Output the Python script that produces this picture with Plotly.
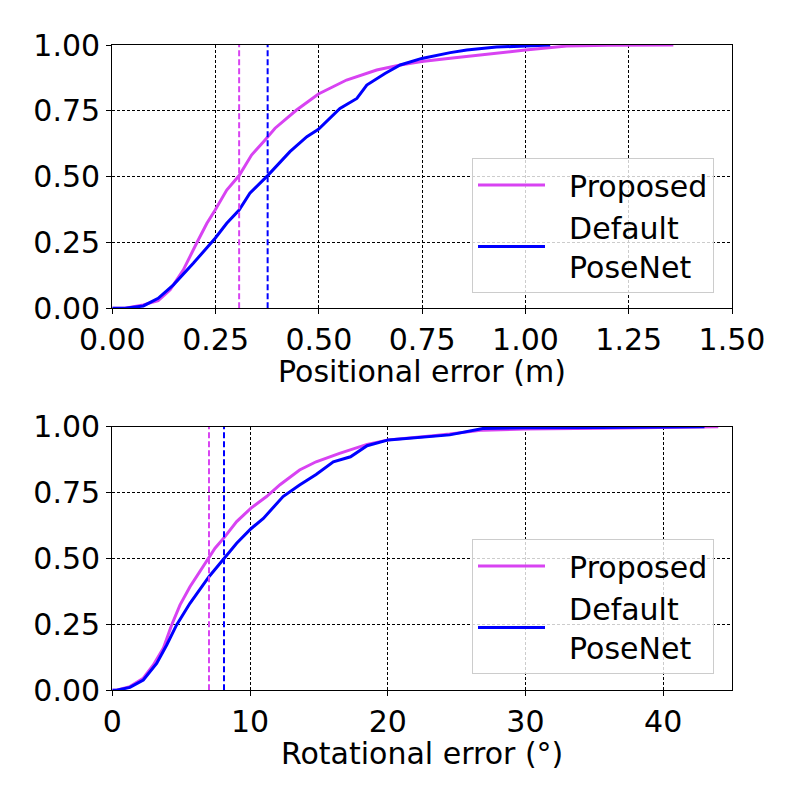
import plotly.graph_objects as go

# Positional error CDF (top)
pos_x_proposed = [0.0, 0.031, 0.075, 0.111, 0.140, 0.172, 0.204, 0.229, 0.249, 0.277, 0.307, 0.337, 0.366, 0.394,
                  0.446, 0.499, 0.567, 0.640, 0.697, 0.749, 0.818, 0.90, 1.0, 1.10, 1.20, 1.358]
pos_y_proposed = [0.0, 0.0, 0.013, 0.029, 0.07, 0.146, 0.247, 0.323, 0.373, 0.449, 0.504, 0.582, 0.633, 0.684,
                  0.753, 0.814, 0.867, 0.905, 0.924, 0.937, 0.950, 0.965, 0.981, 0.996, 0.999, 1.0]
pos_x_default = [0.0, 0.031, 0.075, 0.111, 0.148, 0.196, 0.249, 0.277, 0.307, 0.333, 0.376, 0.430, 0.471, 0.499,
                 0.551, 0.592, 0.616, 0.660, 0.697, 0.749, 0.818, 0.858, 0.93, 1.0, 1.06]
pos_y_default = [0.0, 0.0, 0.009, 0.038, 0.089, 0.171, 0.266, 0.323, 0.373, 0.437, 0.504, 0.595, 0.652, 0.680,
                 0.759, 0.797, 0.848, 0.892, 0.924, 0.949, 0.971, 0.981, 0.992, 0.997, 1.0]

# Rotational error CDF (bottom)
rot_x_proposed = [0.0, 0.31, 1.28, 2.25, 2.98, 3.70, 4.31, 4.92, 5.64, 6.37, 7.02, 7.46, 8.18, 9.03, 10.05, 11.2,
                  12.2, 13.6, 14.8, 16.5, 18.5, 20.05, 23.3, 24.5, 26.9, 30.0, 35.4, 44.0]
rot_y_proposed = [0.0, 0.0, 0.014, 0.046, 0.096, 0.159, 0.248, 0.324, 0.393, 0.450, 0.501, 0.539, 0.583, 0.640,
                  0.690, 0.735, 0.781, 0.836, 0.867, 0.899, 0.933, 0.950, 0.966, 0.972, 0.987, 0.991, 0.994, 1.0]
rot_x_default = [0.0, 0.31, 1.28, 2.25, 3.22, 3.95, 4.67, 5.64, 7.02, 8.11, 9.03, 10.05, 10.97, 12.4, 13.6, 14.8,
                 16.05, 17.3, 18.5, 20.05, 24.5, 26.9, 30.0, 35.4, 43.0]
rot_y_default = [0.0, 0.0, 0.011, 0.039, 0.102, 0.172, 0.248, 0.330, 0.431, 0.501, 0.558, 0.612, 0.652, 0.735,
                 0.779, 0.819, 0.867, 0.886, 0.928, 0.950, 0.969, 0.993, 0.996, 0.997, 1.0]

# Medians (dashed lines)
pos_median = {"Proposed": 0.307, "Default": 0.376}
rot_median = {"Proposed": 7.02, "Default": 8.11}

series_names = ["Proposed", "Default<br>PoseNet"]
axis_titles = ["Positional error (m)", "Rotational error (°)"]
c_prop = "#d843f2"
c_def = "#0000ff"

FONT = "DejaVu Sans"
FS = 30
OFF = 8  # page body offset in px
PAD = "\u00a0\u00a0"
fig = go.Figure()

def legend_label(name):
    return "<br>".join(PAD + part for part in name.split("<br>"))

def add_panel(xp, yp, xd, yd, med, xa, ya, leg):
    fig.add_trace(go.Scatter(x=xp, y=yp, mode="lines", line=dict(color=c_prop, width=3),
                             name=legend_label(series_names[0]), xaxis=xa, yaxis=ya, legend=leg))
    fig.add_trace(go.Scatter(x=xd, y=yd, mode="lines", line=dict(color=c_def, width=3),
                             name=legend_label(series_names[1]), xaxis=xa, yaxis=ya, legend=leg))
    fig.add_trace(go.Scatter(x=[med["Proposed"]] * 2, y=[0, 1], mode="lines",
                             line=dict(color=c_prop, width=2, dash="6px,3px"),
                             showlegend=False, xaxis=xa, yaxis=ya))
    fig.add_trace(go.Scatter(x=[med["Default"]] * 2, y=[0, 1], mode="lines",
                             line=dict(color=c_def, width=2, dash="6px,3px"),
                             showlegend=False, xaxis=xa, yaxis=ya))

add_panel(pos_x_proposed, pos_y_proposed, pos_x_default, pos_y_default, pos_median, "x", "y", "legend")
add_panel(rot_x_proposed, rot_y_proposed, rot_x_default, rot_y_default, rot_median, "x2", "y2", "legend2")

axis_common = dict(showline=True, linecolor="black", linewidth=1.3, mirror=True,
                   ticks="outside", ticklen=5, tickwidth=1.2, tickcolor="black",
                   showgrid=True, gridcolor="black", gridwidth=0.6, griddash="3px,2px",
                   zeroline=False, automargin=False,
                   tickfont=dict(family=FONT, size=FS, color="black"))

def px_x(p):
    return (p - OFF) / 800

def px_y(p):
    return 1 - (p - OFF) / 800

xdom = [px_x(112.3), px_x(732)]
xmid = (xdom[0] + xdom[1]) / 2
leg_common = dict(xanchor="right", yanchor="bottom",
                  bgcolor="rgba(255,255,255,0.8)", bordercolor="#cccccc", borderwidth=1,
                  font=dict(family=FONT, size=FS), itemwidth=67)
fig.update_layout(
    width=800, height=800,
    margin=dict(l=0, r=0, t=0, b=0),
    paper_bgcolor="white", plot_bgcolor="white",
    font=dict(family=FONT, size=FS, color="black"),
    xaxis=dict(domain=xdom, anchor="y", range=[0, 1.5], tickvals=[0, 0.25, 0.5, 0.75, 1.0, 1.25, 1.5],
               tickformat=".2f", **axis_common),
    yaxis=dict(domain=[px_y(308.3), px_y(45)], anchor="x", range=[0, 1],
               tickvals=[0, 0.25, 0.5, 0.75, 1.0], tickformat=".2f", **axis_common),
    xaxis2=dict(domain=xdom, anchor="y2", range=[0, 45], tickvals=[0, 10, 20, 30, 40],
                **axis_common),
    yaxis2=dict(domain=[px_y(690.3), px_y(426.7)], anchor="x2", range=[0, 1],
                tickvals=[0, 0.25, 0.5, 0.75, 1.0], tickformat=".2f", **axis_common),
    legend=dict(x=px_x(714), y=px_y(293), **leg_common),
    legend2=dict(x=px_x(714), y=px_y(674), **leg_common),
    showlegend=True,
    annotations=[
        dict(text=axis_titles[0], xref="paper", yref="paper", x=xmid, y=px_y(371),
             xanchor="center", yanchor="middle", showarrow=False,
             font=dict(family=FONT, size=FS, color="black")),
        dict(text=axis_titles[1], xref="paper", yref="paper", x=xmid, y=px_y(753),
             xanchor="center", yanchor="middle", showarrow=False,
             font=dict(family=FONT, size=FS, color="black")),
    ],
)

fig.write_html("out.html")
